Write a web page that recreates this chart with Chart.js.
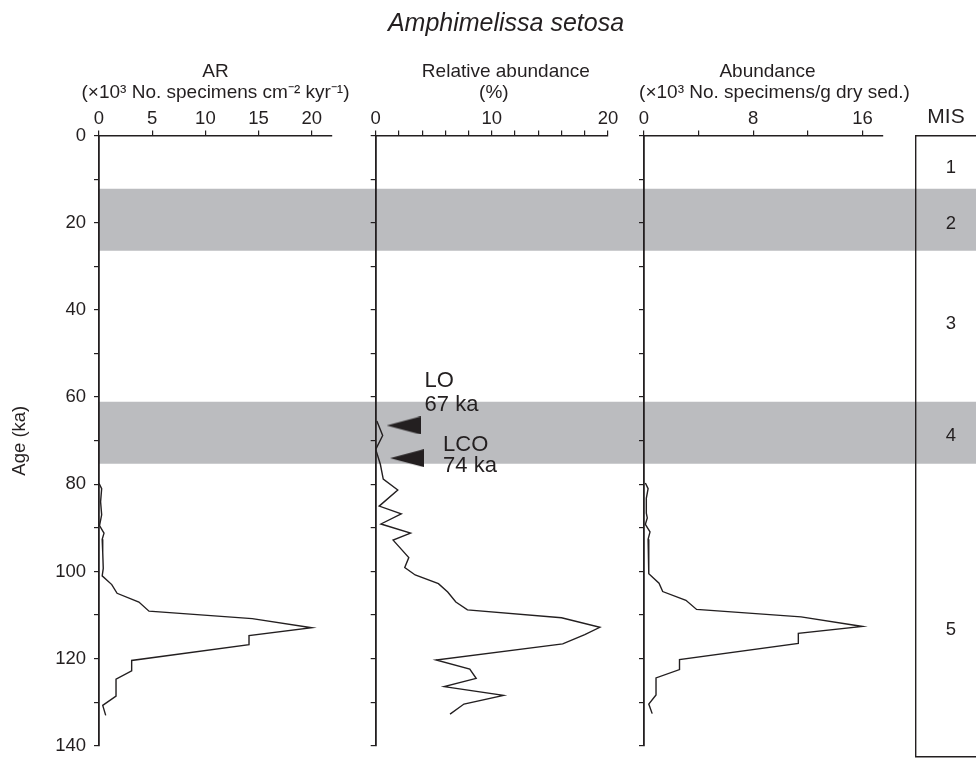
<!DOCTYPE html>
<html>
<head>
<meta charset="utf-8">
<title>Amphimelissa setosa</title>
<script src="https://cdn.jsdelivr.net/npm/chart.js@4.4.1/dist/chart.umd.min.js"></script>
<style>
  body { margin: 0; background: #fff; }
  #wrap { position: relative; width: 976px; height: 765px; overflow: hidden; }
  #wrap canvas { position: absolute; left: 0; top: 0; }
  #title {
    position: absolute; left: 0; top: 8px; width: 1012px;
    text-align: center; color: #231f20;
    font: italic 25px "Liberation Sans", Arial, sans-serif;
  }
</style>
</head>
<body>
<div id="wrap">
  <canvas id="bands" width="976" height="765"></canvas>
  <canvas id="arChart" width="976" height="765"></canvas>
  <canvas id="relChart" width="976" height="765"></canvas>
  <canvas id="abChart" width="976" height="765"></canvas>
  <canvas id="misChart" width="976" height="765"></canvas>
  <div id="title">Amphimelissa setosa</div>
</div>
<script>
//Age axis (ka) and the glacial stages
const ageTicks = [0, 10, 20, 30, 40, 50, 60, 70, 80, 90, 100, 110, 120, 130, 140];
const ageLabels = [0, 20, 40, 60, 80, 100, 120, 140];
const bandStart = [12, 60];
const bandEnd = [26, 74];
const misStages = ["1", "2", "3", "4", "5"];
const misLabelAge = [7.3, 20, 42.5, 67.7, 111.5];

//AR (x10^3 No. specimens cm-2 kyr-1)
const arAge = [79.8, 81, 84, 87, 89.5, 91.2, 92.6, 95.6, 99.3, 101, 103, 105, 107, 109.1, 110.8, 112.9, 114.7, 116.8, 120.4, 122.8, 124.7, 128.6, 130.7, 133];
const arValue = [0, 0.25, 0.15, 0.25, 0.05, 0.47, 0.3, 0.35, 0.4, 0.3, 1.2, 1.7, 3.75, 4.7, 14.4, 20.0, 14.1, 14.1, 3.07, 3.07, 1.6, 1.6, 0.35, 0.63];
const arTicks = [0, 5, 10, 15, 20];
const arLabels = [0, 5, 10, 15, 20];

//Relative abundance (%)
const relAge = [65.5, 68.8, 72.0, 75.4, 78.8, 81.3, 85.0, 86.8, 89.1, 91.2, 92.8, 96.8, 99.1, 100.8, 102.8, 104.7, 107.0, 108.8, 110.6, 112.8, 114.5, 116.6, 120.3, 122.4, 124.5, 126.4, 128.4, 130.4, 132.7];
const relValue = [0.1, 0.6, 0, 0.4, 0.65, 1.9, 0.3, 2.2, 0.45, 3.0, 1.5, 2.85, 2.5, 3.4, 5.4, 6.2, 6.9, 7.9, 16.0, 19.3, 18.0, 16.1, 5.2, 8.1, 8.65, 5.9, 11.0, 7.6, 6.4];
const relTicks = [0, 2, 4, 6, 8, 10, 12, 14, 16, 18, 20];
const relLabels = [0, 10, 20];

//Abundance (x10^3 No. specimens/g dry sed.)
const abAge = [79.7, 81, 83.2, 86.6, 87.7, 89.2, 90.9, 92.6, 100.5, 102.7, 104.6, 106.6, 108.7, 110.4, 112.6, 114.2, 116.5, 120.2, 122.5, 124.4, 128.3, 130.4, 132.6];
const abValue = [0.1, 0.3, 0.17, 0.17, 0.24, 0.1, 0.44, 0.3, 0.35, 1.1, 1.37, 3.07, 3.85, 11.5, 16.0, 11.3, 11.3, 2.6, 2.6, 0.88, 0.88, 0.35, 0.6];
const abTicks = [0, 4, 8, 12, 16];
const abLabels = [0, 8, 16];

//LO and LCO events marked on the relative abundance curve
const eventNames = [["LO", "67 ka"], ["LCO", "74 ka"]];
const eventAge = [66.5, 74];
const eventValue = [2.4, 2.7];

const INK = "#231f20";
const GREY = "#bbbcbf";
const FAMILY = '"Liberation Sans", Arial, sans-serif';
const TOP = 135.5;     // where the top axes sit
const BOTTOM = 8.5;    // space under the age axis
const HEADER_Y = [71.5, 92.5];

Chart.defaults.font.family = FAMILY;
Chart.defaults.color = INK;

//Turns two arrays into chart points
function toPoints(ages, values) {
  return ages.map((a, i) => ({ x: values[i], y: a }));
}

//Shared age axis for every panel
function ageAxis(width, showLabels) {
  return {
    type: "linear",
    min: 0,
    max: 140,
    reverse: true,
    afterBuildTicks: (s) => { s.ticks = ageTicks.map((v) => ({ value: v })); },
    afterFit: (s) => { s.width = width; },
    grid: { drawOnChartArea: false, drawTicks: true, tickLength: 5, color: INK, lineWidth: 1.2 },
    border: { display: true, color: INK, width: 1.8 },
    ticks: {
      padding: 8,
      autoSkip: false,
      font: { size: 18.5 },
      callback: (v) => (showLabels && ageLabels.includes(v) ? String(v) : ""),
    },
    title: {
      display: showLabels,
      text: "Age (ka)",
      font: { size: 18.5 },
      padding: { top: 9, bottom: 0 },
    },
  };
}

//Top value axis of a panel
function valueAxis(max, ticks, labels) {
  return {
    type: "linear",
    position: "top",
    min: 0,
    max: max,
    afterBuildTicks: (s) => { s.ticks = ticks.map((v) => ({ value: v })); },
    afterFit: (s) => { s.height = TOP; },
    grid: { drawOnChartArea: false, drawTicks: true, tickLength: 5, color: INK, lineWidth: 1.2 },
    border: { display: true, color: INK, width: 1.5 },
    ticks: {
      padding: 0.5,
      autoSkip: false,
      maxRotation: 0,
      font: { size: 18.5 },
      callback: (v) => (labels.includes(v) ? String(v) : ""),
    },
  };
}

//Two line header over a panel, wider than the axis so drawn by hand
const headerPlugin = {
  id: "header",
  afterDraw(chart, args, opts) {
    const { ctx, scales } = chart;
    const cx = (scales.x.left + scales.x.right) / 2;
    ctx.save();
    ctx.fillStyle = INK;
    ctx.font = "19px " + FAMILY;
    ctx.textAlign = "center";
    ctx.textBaseline = "middle";
    opts.lines.forEach((line, i) => {
      ctx.fillText(line, cx + opts.shift[i], HEADER_Y[i]);
    });
    ctx.restore();
  },
};

function curve(ages, values) {
  return {
    data: toPoints(ages, values),
    showLine: true,
    borderColor: INK,
    borderWidth: 1.4,
    pointRadius: 0,
    clip: false,
  };
}

const baseOptions = {
  responsive: false,
  animation: false,
  events: [],
};
const quiet = { legend: { display: false }, tooltip: { enabled: false } };

//Grey bands for MIS 2 and 4
const bandSets = [];
bandStart.forEach((s, i) => {
  bandSets.push({ data: [{ x: 0, y: s }, { x: 1, y: s }], borderWidth: 0, pointRadius: 0, fill: false });
  bandSets.push({ data: [{ x: 0, y: bandEnd[i] }, { x: 1, y: bandEnd[i] }], borderWidth: 0, pointRadius: 0, fill: "-1", backgroundColor: GREY });
});

new Chart(document.getElementById("bands"), {
  type: "line",
  data: { datasets: bandSets },
  options: {
    ...baseOptions,
    plugins: quiet,
    layout: { padding: { left: 99, right: 0, top: TOP, bottom: BOTTOM } },
    scales: {
      x: { type: "linear", min: 0, max: 1, display: false },
      y: { type: "linear", min: 0, max: 140, reverse: true, display: false },
    },
  },
});

//Panel 1: AR
new Chart(document.getElementById("arChart"), {
  type: "scatter",
  data: { datasets: [curve(arAge, arValue)] },
  options: {
    ...baseOptions,
    plugins: { ...quiet, header: { lines: ["AR", "(×10³ No. specimens cm⁻² kyr⁻¹)"], shift: [0, 0] } },
    layout: { padding: { left: 0, right: 976 - 332, top: 0, bottom: BOTTOM } },
    scales: {
      x: valueAxis(21.9, arTicks, arLabels),
      y: ageAxis(99, true),
    },
  },
  plugins: [headerPlugin],
});

//Arrow shape for the LO / LCO markers
const arrow = document.createElement("canvas");
arrow.width = 34;
arrow.height = 18;
const actx = arrow.getContext("2d");
actx.fillStyle = INK;
actx.beginPath();
actx.moveTo(0, 9);
actx.lineTo(34, 0);
actx.lineTo(34, 18);
actx.closePath();
actx.fill();

//Where the event labels sit next to their arrows (pixels)
const eventLabelOffset = [
  { dx: 21, dy: [-45, -20.5] },
  { dx: 36, dy: [-13.5, 8] },
];

const eventLabelPlugin = {
  id: "eventLabels",
  afterDatasetsDraw(chart) {
    const meta = chart.getDatasetMeta(1);
    const ctx = chart.ctx;
    ctx.save();
    ctx.fillStyle = INK;
    ctx.font = "22px " + FAMILY;
    ctx.textBaseline = "middle";
    ctx.textAlign = "left";
    meta.data.forEach((pt, i) => {
      const off = eventLabelOffset[i];
      eventNames[i].forEach((line, j) => {
        ctx.fillText(line, pt.x + off.dx, pt.y + off.dy[j]);
      });
    });
    ctx.restore();
  },
};

//Panel 2: relative abundance
new Chart(document.getElementById("relChart"), {
  type: "scatter",
  data: {
    datasets: [
      curve(relAge, relValue),
      {
        data: toPoints(eventAge, eventValue),
        pointStyle: arrow,
        pointRadius: 10,
        clip: false,
      },
    ],
  },
  options: {
    ...baseOptions,
    plugins: { ...quiet, header: { lines: ["Relative abundance", "(%)"], shift: [14, 2] } },
    layout: { padding: { left: 375.7 - 20, right: 976 - 608, top: 0, bottom: BOTTOM } },
    scales: {
      x: valueAxis(20, relTicks, relLabels),
      y: ageAxis(20, false),
    },
  },
  plugins: [eventLabelPlugin, headerPlugin],
});

//Panel 3: abundance
new Chart(document.getElementById("abChart"), {
  type: "scatter",
  data: { datasets: [curve(abAge, abValue)] },
  options: {
    ...baseOptions,
    plugins: { ...quiet, header: { lines: ["Abundance", "(×10³ No. specimens/g dry sed.)"], shift: [4, 11] } },
    layout: { padding: { left: 644 - 20, right: 976 - 883, top: 0, bottom: BOTTOM } },
    scales: {
      x: valueAxis(17.5, abTicks, abLabels),
      y: ageAxis(20, false),
    },
  },
  plugins: [headerPlugin],
});

//MIS column
const misLabelPlugin = {
  id: "misLabels",
  afterDatasetsDraw(chart) {
    const { ctx, chartArea, scales } = chart;
    const x = (chartArea.left + chartArea.right) / 2 + 5;
    ctx.save();
    ctx.fillStyle = INK;
    ctx.font = "18.5px " + FAMILY;
    ctx.textAlign = "center";
    ctx.textBaseline = "middle";
    misStages.forEach((s, i) => {
      ctx.fillText(s, x, scales.y.getPixelForValue(misLabelAge[i]));
    });
    ctx.restore();
  },
};

new Chart(document.getElementById("misChart"), {
  type: "scatter",
  data: { datasets: [] },
  options: {
    ...baseOptions,
    plugins: quiet,
    layout: { padding: { left: 916, right: 0, top: 0, bottom: 0 } },
    scales: {
      x: {
        type: "linear", position: "top", min: 0, max: 1,
        afterFit: (s) => { s.height = TOP; },
        grid: { display: false },
        border: { display: true, color: INK, width: 1.4 },
        ticks: { display: false },
        title: { display: true, text: "MIS", font: { size: 21 }, padding: { top: 105, bottom: 0 } },
      },
      xb: {
        type: "linear", position: "bottom", min: 0, max: 1,
        afterFit: (s) => { s.height = BOTTOM; },
        grid: { display: false },
        border: { display: true, color: INK, width: 1.4 },
        ticks: { display: false },
      },
      y: {
        type: "linear", min: 0, max: 140, reverse: true,
        afterFit: (s) => { s.width = 0; },
        grid: { display: false },
        border: { display: true, color: INK, width: 1.4 },
        ticks: { display: false },
      },
    },
  },
  plugins: [misLabelPlugin],
});
</script>
</body>
</html>
